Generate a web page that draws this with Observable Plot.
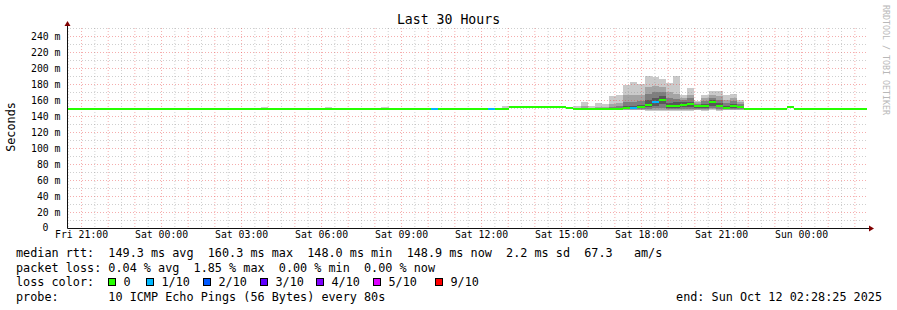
<!DOCTYPE html>
<html>
<head>
<meta charset="utf-8">
<script src="https://cdn.jsdelivr.net/npm/d3@7"></script>
<script src="https://cdn.jsdelivr.net/npm/@observablehq/plot@0.6"></script>
<style>
html, body { margin: 0; padding: 0; background: #fff; }
svg text { font-family: "DejaVu Sans Mono", monospace; }
</style>
</head>
<body>
<div id="chart"></div>
<script>
// ---------------- data ----------------
const graphStart = "2025-10-10T20:28:25Z";
const graphEnd = "2025-10-12T02:28:25Z";

const segStart = [
  "2025-10-10T20:28:25Z", "2025-10-10T21:52Z", "2025-10-10T22:08Z", "2025-10-10T22:24Z",
  "2025-10-10T23:12Z", "2025-10-11T00:00Z", "2025-10-11T00:32Z", "2025-10-11T00:48Z",
  "2025-10-11T02:24Z", "2025-10-11T02:40Z", "2025-10-11T03:44Z", "2025-10-11T04:00Z",
  "2025-10-11T06:08Z", "2025-10-11T06:24Z", "2025-10-11T08:16Z", "2025-10-11T08:32Z",
  "2025-10-11T10:08Z", "2025-10-11T10:24Z", "2025-10-11T12:16Z", "2025-10-11T12:32Z",
  "2025-10-11T12:48Z", "2025-10-11T13:04Z", "2025-10-11T15:12Z",
  "2025-10-11T15:28Z", "2025-10-11T15:44Z", "2025-10-11T16:00Z", "2025-10-11T16:16Z",
  "2025-10-11T16:32Z", "2025-10-11T16:48Z", "2025-10-11T17:04Z", "2025-10-11T17:20Z",
  "2025-10-11T17:36Z", "2025-10-11T17:52Z", "2025-10-11T18:08Z", "2025-10-11T18:24Z",
  "2025-10-11T18:40Z", "2025-10-11T18:56Z", "2025-10-11T19:12Z", "2025-10-11T19:28Z",
  "2025-10-11T19:44Z", "2025-10-11T20:00Z", "2025-10-11T20:16Z", "2025-10-11T20:32Z",
  "2025-10-11T20:48Z", "2025-10-11T21:04Z", "2025-10-11T21:20Z", "2025-10-11T21:36Z",
  "2025-10-11T21:52Z", "2025-10-11T23:28Z", "2025-10-11T23:44Z", "2025-10-12T00:00Z",
  "2025-10-12T00:16Z", "2025-10-12T01:52Z", "2025-10-12T02:08Z"
];

// median rtt, ms
const median = [
  149.1, 148.3, 149.1, 148.3, 149.1, 148.3, 149.1, 148.3,
  149.1, 148.3, 148.3, 148.3, 148.3, 148.3, 148.3, 148.3,
  148.3, 148.3, 148.3, 148.3, 148.3, 151.3, 149.8,
  148.2, 148.2, 148.2, 148.2, 148.2, 148.2, 148.6, 150.5,
  150.0, 150.8, 154.0, 157.5, 160.3, 152.0, 153.0, 154.0,
  154.5, 152.0, 152.5, 157.0, 153.0, 150.5, 152.0, 150.8,
  148.6, 151.6, 148.6, 148.2, 148.6, 148.2, 148.9
];

// lost pings out of 10
const lossCount = [
  0, 0, 0, 0, 0, 0, 0, 0,
  0, 0, 0, 0, 0, 0, 0, 0,
  1, 0, 1, 0, 0, 0, 0,
  0, 0, 0, 0, 0, 0, 0, 0,
  1, 0, 0, 1, 0, 0, 0, 0,
  0, 0, 0, 0, 0, 0, 0, 0,
  0, 0, 0, 0, 0, 0, 0
];

// sorted ping rtts (ms) per segment, ping 1 .. ping 10
const pings = [
  [148.5,148.6,148.8,148.9,149.0,149.2,149.3,149.4,149.6,149.9],
  [147.7,147.8,148.0,148.1,148.2,148.4,148.5,148.6,148.8,149.1],
  [148.5,148.6,148.8,148.9,149.0,149.2,149.3,149.4,149.6,149.9],
  [147.7,147.8,148.0,148.1,148.2,148.4,148.5,148.6,148.8,149.1],
  [148.5,148.6,148.8,148.9,149.0,149.2,149.3,149.4,149.6,149.9],
  [147.7,147.8,148.0,148.1,148.2,148.4,148.5,148.6,148.8,149.1],
  [148.5,148.6,148.8,148.9,149.0,149.2,149.3,149.4,149.6,149.9],
  [147.7,147.8,148.0,148.1,148.2,148.4,148.5,148.6,148.8,149.1],
  [148.5,148.6,148.8,148.9,149.0,149.2,149.3,149.4,149.6,149.9],
  [147.7,147.8,148.0,148.1,148.2,148.4,148.5,148.6,148.8,149.1],
  [147.7,147.8,148.0,148.1,148.2,148.4,148.6,148.9,149.6,151.0],
  [147.7,147.8,148.0,148.1,148.2,148.4,148.5,148.6,148.8,149.1],
  [147.7,147.8,148.0,148.1,148.2,148.4,148.6,148.9,149.6,151.0],
  [147.7,147.8,148.0,148.1,148.2,148.4,148.5,148.6,148.8,149.1],
  [147.7,147.8,148.0,148.1,148.2,148.4,148.6,148.9,149.6,151.0],
  [147.7,147.8,148.0,148.1,148.2,148.4,148.5,148.6,148.8,149.1],
  [147.7,147.8,148.0,148.1,148.2,148.4,148.5,148.6,148.8,149.1],
  [147.7,147.8,148.0,148.1,148.2,148.4,148.5,148.6,148.8,149.1],
  [147.7,147.8,148.0,148.1,148.2,148.4,148.5,148.6,148.8,149.1],
  [147.7,147.8,148.0,148.1,148.2,148.4,148.5,148.6,148.8,149.1],
  [147.7,147.9,148.0,148.1,148.2,148.4,148.7,149.3,150.5,152.5],
  [150.6,150.8,150.9,151.1,151.2,151.4,151.5,151.7,151.9,152.2],
  [148.5,148.8,149.0,149.3,149.6,150.0,150.3,150.6,151.0,151.5],
  [147.4,147.6,147.8,148.0,148.1,148.3,148.6,149.2,150.5,152.5],
  [147.4,147.6,147.8,148.0,148.1,148.4,148.8,149.8,152.5,157.5],
  [147.4,147.6,147.8,148.0,148.1,148.3,148.6,149.2,150.5,152.5],
  [147.4,147.6,147.8,148.0,148.1,148.4,148.8,149.6,151.5,156.0],
  [147.4,147.6,147.8,148.0,148.1,148.4,148.8,149.5,151.0,155.0],
  [147.4,147.6,147.8,148.0,148.2,148.6,149.5,151.5,155.5,165.5],
  [147.5,147.8,148.0,148.3,148.5,148.8,149.8,152.0,156.0,166.0],
  [147.6,148.0,148.5,149.2,150.2,150.8,152.5,157.0,166.5,179.0],
  [147.6,148.0,148.5,149.2,149.8,150.5,152.5,157.0,166.5,182.5],
  [147.6,148.0,148.6,149.5,150.5,151.2,153.5,158.5,166.0,179.5],
  [146.0,147.0,148.5,151.0,153.5,155.0,160.0,168.0,176.0,190.0],
  [146.0,147.5,149.5,153.0,156.5,158.5,163.0,170.0,177.0,189.0],
  [146.5,148.0,150.5,155.0,159.5,161.0,165.0,170.0,176.0,186.5],
  [146.0,147.0,148.5,150.0,151.5,152.5,156.0,162.0,170.0,181.5],
  [146.0,147.0,148.5,150.5,152.5,153.5,157.0,161.0,167.0,190.5],
  [146.5,147.5,149.0,151.0,153.5,154.5,157.0,160.0,163.0,166.5],
  [146.5,147.5,149.0,151.5,154.0,155.0,158.0,162.0,166.0,175.5],
  [147.0,148.0,149.0,150.5,151.8,152.5,154.0,155.5,157.0,159.0],
  [146.5,147.5,148.5,150.0,152.0,153.0,155.5,158.5,162.0,166.5],
  [147.0,148.5,150.5,153.0,156.5,157.5,160.0,163.0,166.0,171.0],
  [146.5,147.5,149.0,151.0,152.5,153.5,156.5,160.0,165.0,171.0],
  [147.0,147.8,148.5,149.5,150.2,150.8,153.0,156.5,160.5,166.0],
  [147.0,147.8,148.8,150.2,151.8,152.3,155.0,158.5,162.5,168.0],
  [147.0,147.6,148.3,149.5,150.5,151.0,152.5,154.5,157.0,160.5],
  [148.0,148.1,148.3,148.4,148.5,148.7,148.8,148.9,149.1,149.4],
  [150.9,151.1,151.3,151.4,151.5,151.7,151.8,152.0,152.2,152.5],
  [148.0,148.1,148.3,148.4,148.5,148.7,148.8,148.9,149.1,149.4],
  [147.6,147.7,147.9,148.0,148.1,148.3,148.4,148.5,148.7,149.0],
  [148.0,148.1,148.3,148.4,148.5,148.7,148.8,148.9,149.1,149.4],
  [147.6,147.7,147.9,148.0,148.1,148.3,148.4,148.5,148.7,149.0],
  [148.3,148.4,148.6,148.7,148.8,149.0,149.1,149.2,149.4,149.7]
];

const yTicks = [20, 40, 60, 80, 100, 120, 140, 160, 180, 200, 220, 240];
const yZeroTick = [0];
const lossLegendLabels = ["0", "1/10", "2/10", "3/10", "4/10", "5/10", "9/10"];
const lossLegendCounts = [0, 1, 2, 3, 4, 5, 9];

const titleText = "Last 30 Hours";
const yLabel = "Seconds";
const statsMedian = "median rtt:  149.3 ms avg  160.3 ms max  148.0 ms min  148.9 ms now  2.2 ms sd  67.3   am/s";
const statsLoss = "packet loss: 0.04 % avg  1.85 % max  0.00 % min  0.00 % now";
const lossHeading = "loss color:";
const probeText = "probe:       10 ICMP Echo Pings (56 Bytes) every 80s";
const endText = "end: Sun Oct 12 02:28:25 2025";
const watermark = "RRDTOOL / TOBI OETIKER";

// ---------------- styles ----------------
const lossPalette = {0: "#26ff00", 1: "#00b8ff", 2: "#0059ff", 3: "#5e00ff", 4: "#7e00ff", 5: "#dd00ff", 9: "#ff0000"};
const lossColor = n => lossPalette[n] ?? "#ff0000";
const smokeShades = ["#cacaca", "#a4a4a4", "#7e7e7e", "#585858", "#323232"];
const minorGrid = "rgba(140,140,140,0.42)";
const majorGrid = "rgba(230,60,60,0.42)";
const FONT = '"DejaVu Sans Mono", monospace';

// ---------------- build ----------------
const t0 = new Date(graphStart), t1 = new Date(graphEnd);
const rows = segStart.map((s, i) => ({
  t0: new Date(s),
  t1: new Date(i + 1 < segStart.length ? segStart[i + 1] : graphEnd),
  med: median[i],
  loss: lossCount[i],
  p: pings[i]
}));

const hourTicks = d3.utcHour.range(t0, t1);
const halfTicks = d3.utcMinute.every(30).range(t0, t1).filter(d => d.getUTCMinutes() === 30);
const labelTicks = d3.utcHour.every(3).range(t0, t1);
const fmtTime = d3.utcFormat("%a %H:%M");

const smokeMarks = smokeShades.map((shade, b) =>
  Plot.rect(rows, {
    x1: "t0", x2: "t1",
    y1: d => d.p[b], y2: d => d.p[9 - b],
    fill: shade, shapeRendering: "crispEdges"
  })
);

const chart = Plot.plot({
  width: 897,
  height: 310,
  marginLeft: 67,
  marginRight: 30,
  marginTop: 28,
  marginBottom: 82,
  x: {type: "utc", domain: [t0, t1], axis: null},
  y: {domain: [0, 250], axis: null},
  color: {type: "identity"},
  style: {background: "#fff", fontFamily: FONT, overflow: "visible"},
  marks: [
    ...smokeMarks,
    Plot.ruleY(d3.range(10, 251, 20), {stroke: minorGrid, strokeDasharray: "1,2"}),
    Plot.ruleY(d3.range(20, 241, 20), {stroke: majorGrid, strokeDasharray: "1,2"}),
    Plot.ruleX(halfTicks, {stroke: minorGrid, strokeDasharray: "1,2"}),
    Plot.ruleX(hourTicks, {stroke: majorGrid, strokeDasharray: "1,2"}),
    Plot.rect(rows, {
      x1: "t0", x2: "t1",
      y1: d => d.med - 1.25, y2: d => d.med + 1.25,
      fill: d => lossColor(d.loss), shapeRendering: "crispEdges"
    }),
    Plot.text(yTicks, {
      y: d => d, frameAnchor: "left", dx: -7, textAnchor: "end",
      text: d => `${d}\u00a0m`,
      fontSize: 9.8, fontFamily: FONT, fill: "#000"
    }),
    Plot.text(yZeroTick, {
      y: d => d, frameAnchor: "left", dx: -19, dy: -1, textAnchor: "end",
      text: d => `${d}`,
      fontSize: 9.8, fontFamily: FONT, fill: "#000"
    }),
    Plot.text(labelTicks, {
      x: d => d, frameAnchor: "bottom", dy: 9.5, textAnchor: "middle",
      text: d => fmtTime(d), fontSize: 9.8, fontFamily: FONT, fill: "#000"
    })
  ]
});

document.getElementById("chart").appendChild(chart);

// ---------------- axes, arrows and annotations ----------------
const svg = d3.select(chart);
const X = chart.scale("x"), Y = chart.scale("y");
const x0 = X.apply(t0) + 0.5, xEnd = X.apply(t1);
const y0 = Y.apply(0) + 0.5, yTop = Y.apply(250);

svg.append("line").attr("x1", x0).attr("x2", x0).attr("y1", y0).attr("y2", yTop - 2)
  .attr("stroke", "#111").attr("stroke-width", 1);
svg.append("line").attr("x1", x0).attr("x2", xEnd + 2).attr("y1", y0).attr("y2", y0)
  .attr("stroke", "#111").attr("stroke-width", 1);
svg.append("path")
  .attr("d", `M${x0 - 3},${yTop - 2} L${x0 + 3},${yTop - 2} L${x0},${yTop - 7} Z`)
  .attr("fill", "#800000");
svg.append("path")
  .attr("d", `M${xEnd + 2},${y0 - 3} L${xEnd + 2},${y0 + 3} L${xEnd + 7},${y0} Z`)
  .attr("fill", "#800000");

function txt(x, y, s, size, opts = {}) {
  const t = svg.append("text")
    .attr("x", x).attr("y", y)
    .attr("font-family", FONT)
    .attr("font-size", size)
    .attr("fill", opts.fill || "#000")
    .attr("text-anchor", opts.anchor || "start")
    .style("white-space", "pre")
    .text(s);
  if (opts.transform) t.attr("transform", opts.transform);
  return t;
}

txt(448.5, 24, titleText, 13.2, {anchor: "middle"});
txt(15, 127, yLabel, 11.8, {anchor: "middle", transform: "rotate(-90,15,127)"});
txt(883, 5, watermark, 8.3, {fill: "#b8b8b8", transform: "rotate(90,883,5)"});

txt(16, 257, statsMedian, 11.8);
txt(16, 271.5, statsLoss, 11.8);
txt(16, 286, lossHeading, 11.8);
txt(16, 300.5, probeText, 11.8);
txt(882, 300.5, endText, 11.8, {anchor: "end"});

const legendX = [108, 146, 203, 260, 316, 373, 435];
lossLegendLabels.forEach((lab, i) => {
  svg.append("rect")
    .attr("x", legendX[i] + 0.5).attr("y", 278.5)
    .attr("width", 7).attr("height", 7)
    .attr("fill", lossColor(lossLegendCounts[i]))
    .attr("stroke", "#000").attr("stroke-width", 1);
  txt(legendX[i] + 15.5, 286, lab, 11.8);
});
</script>
</body>
</html>
